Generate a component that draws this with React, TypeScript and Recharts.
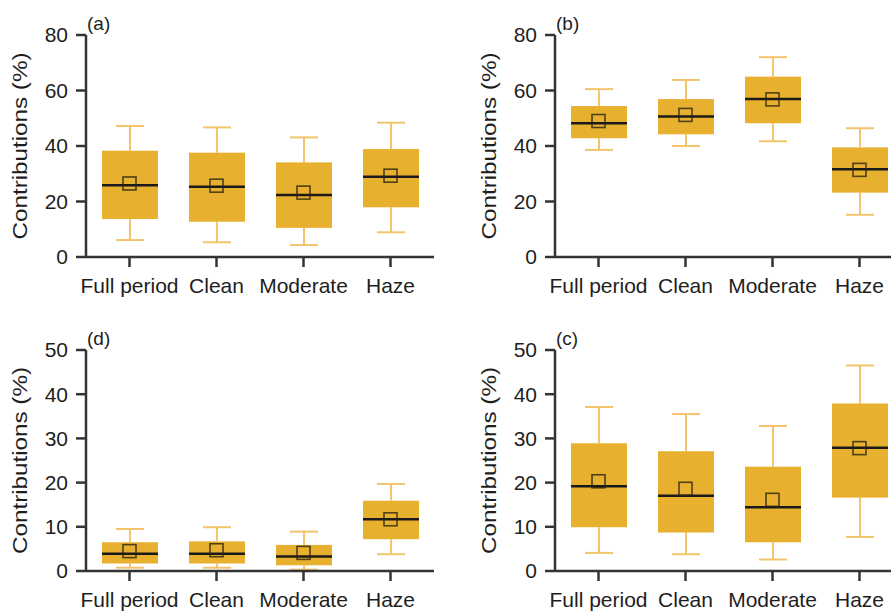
import { Bar, ComposedChart, Scatter, XAxis, YAxis } from 'recharts'

const categories = ['Full period', 'Clean', 'Moderate', 'Haze']

// panel (a)
const aLow = [6.1, 5.3, 4.3, 8.9]
const aQ1 = [13.7, 12.7, 10.5, 17.9]
const aMedian = [25.9, 25.3, 22.3, 28.9]
const aQ3 = [38.3, 37.6, 34.1, 38.9]
const aHigh = [47.2, 46.7, 43.1, 48.4]
const aMean = [26.5, 25.7, 23.2, 29.3]

// panel (b)
const bLow = [38.6, 40.0, 41.7, 15.2]
const bQ1 = [42.8, 44.2, 48.2, 23.2]
const bMedian = [48.2, 50.6, 56.9, 31.6]
const bQ3 = [54.4, 56.9, 65.0, 39.5]
const bHigh = [60.5, 63.8, 72.0, 46.4]
const bMean = [49.0, 51.2, 56.8, 31.4]

// panel (c)
const cLow = [4.1, 3.8, 2.6, 7.7]
const cQ1 = [9.9, 8.7, 6.5, 16.6]
const cMedian = [19.2, 17.0, 14.4, 27.9]
const cQ3 = [28.9, 27.1, 23.6, 37.9]
const cHigh = [37.1, 35.5, 32.8, 46.5]
const cMean = [20.3, 18.6, 16.1, 27.8]

// panel (d)
const dLow = [0.75, 0.75, 0.3, 3.8]
const dQ1 = [1.7, 1.7, 1.3, 7.2]
const dMedian = [3.9, 3.9, 3.3, 11.7]
const dQ3 = [6.5, 6.7, 5.9, 15.9]
const dHigh = [9.5, 9.9, 8.9, 19.7]
const dMean = [4.5, 4.7, 4.1, 11.7]

const ticks80 = [0, 20, 40, 60, 80]
const ticks50 = [0, 10, 20, 30, 40, 50]

const BOX = '#E8B02F'
const WHISKER = '#F2C56C'
const AXIS = '#333'
const FONT = '"Liberation Sans", Arial, sans-serif'

type Row = {
  name: string
  base: number
  lowW: number
  lowBox: number
  highBox: number
  highW: number
  mean: number
}

function buildRows(low: number[], q1: number[], med: number[], q3: number[], high: number[], mean: number[]): Row[] {
  return categories.map((name, i) => ({
    name,
    base: low[i],
    lowW: q1[i] - low[i],
    lowBox: med[i] - q1[i],
    highBox: q3[i] - med[i],
    highW: high[i] - q3[i],
    mean: mean[i],
  }))
}

function LowerWhisker(props: any) {
  const { x, y, width, height } = props
  const cx = x + width / 2
  const bottom = y + height
  return (
    <g stroke={WHISKER} strokeWidth={2}>
      <line x1={cx} x2={cx} y1={y} y2={bottom} />
      <line x1={cx - width / 4} x2={cx + width / 4} y1={bottom} y2={bottom} />
    </g>
  )
}

function UpperWhisker(props: any) {
  const { x, y, width, height } = props
  const cx = x + width / 2
  return (
    <g stroke={WHISKER} strokeWidth={2}>
      <line x1={cx} x2={cx} y1={y} y2={y + height} />
      <line x1={cx - width / 4} x2={cx + width / 4} y1={y} y2={y} />
    </g>
  )
}

function LowerBox(props: any) {
  const { x, y, width, height } = props
  return <rect x={x} y={y} width={width} height={height} fill={BOX} />
}

// upper half of the box, with the median line on its bottom edge
function UpperBox(props: any) {
  const { x, y, width, height } = props
  return (
    <g>
      <rect x={x} y={y} width={width} height={height} fill={BOX} />
      <line x1={x} x2={x + width} y1={y + height} y2={y + height} stroke="#1a1a1a" strokeWidth={2.5} />
    </g>
  )
}

function MeanSquare(props: any) {
  const { cx, cy } = props
  return (
    <rect
      x={cx - 6.5}
      y={cy - 6.5}
      width={13}
      height={13}
      fill="none"
      stroke="#2a2410"
      strokeOpacity={0.8}
      strokeWidth={1.6}
    />
  )
}

function AxisLabels({ viewBox, tag }: any) {
  const lx = viewBox.x + 27
  const ly = viewBox.y + viewBox.height / 2
  return (
    <g fontFamily={FONT} fill="#1e1e1e">
      <text
        x={lx}
        y={ly}
        transform={`rotate(-90 ${lx} ${ly})`}
        textAnchor="middle"
        fontSize={21}
        textLength={187}
        lengthAdjust="spacingAndGlyphs"
      >
        Contributions (%)
      </text>
      <text x={viewBox.x + viewBox.width + 1} y={viewBox.y - 5} fontSize={19}>
        {tag}
      </text>
    </g>
  )
}

interface PanelProps {
  rows: Row[]
  max: number
  ticks: number[]
  tag: string
  left: number
  top: number
  height: number
}

function Panel({ rows, max, ticks, tag, left, top, height }: PanelProps) {
  const tickStyle = { fill: '#1e1e1e', fontSize: 21, fontFamily: FONT }
  return (
    <div style={{ position: 'absolute', left, top }}>
      <ComposedChart width={440} height={height} data={rows} margin={{ top: 35, right: 6, bottom: 0, left: 0 }}>
        <XAxis
          dataKey="name"
          interval={0}
          height={50}
          tickSize={10}
          tickMargin={11}
          axisLine={{ stroke: AXIS, strokeWidth: 2.5 }}
          tickLine={{ stroke: AXIS, strokeWidth: 2.5 }}
          tick={tickStyle}
        />
        <YAxis
          type="number"
          domain={[0, max]}
          ticks={ticks}
          width={86}
          tickSize={10}
          tickMargin={8}
          axisLine={{ stroke: AXIS, strokeWidth: 2.5 }}
          tickLine={{ stroke: AXIS, strokeWidth: 2.5 }}
          tick={tickStyle}
          label={<AxisLabels tag={tag} />}
        />
        <Bar dataKey="base" stackId="box" barSize={56} shape={() => null} isAnimationActive={false} />
        <Bar dataKey="lowW" stackId="box" barSize={56} shape={LowerWhisker} isAnimationActive={false} />
        <Bar dataKey="lowBox" stackId="box" barSize={56} shape={LowerBox} isAnimationActive={false} />
        <Bar dataKey="highBox" stackId="box" barSize={56} shape={UpperBox} isAnimationActive={false} />
        <Bar dataKey="highW" stackId="box" barSize={56} shape={UpperWhisker} isAnimationActive={false} />
        <Scatter dataKey="mean" shape={MeanSquare} isAnimationActive={false} />
      </ComposedChart>
    </div>
  )
}

export default function App() {
  const rowsA = buildRows(aLow, aQ1, aMedian, aQ3, aHigh, aMean)
  const rowsB = buildRows(bLow, bQ1, bMedian, bQ3, bHigh, bMean)
  const rowsC = buildRows(cLow, cQ1, cMedian, cQ3, cHigh, cMean)
  const rowsD = buildRows(dLow, dQ1, dMedian, dQ3, dHigh, dMean)

  return (
    <div
      style={{
        position: 'absolute',
        left: 0,
        top: 0,
        width: 891,
        height: 614,
        overflow: 'hidden',
        background: '#fff',
      }}
    >
      <Panel rows={rowsA} max={80} ticks={ticks80} tag="(a)" left={0} top={0} height={307} />
      <Panel rows={rowsB} max={80} ticks={ticks80} tag="(b)" left={469} top={0} height={307} />
      <Panel rows={rowsD} max={50} ticks={ticks50} tag="(d)" left={0} top={315} height={306} />
      <Panel rows={rowsC} max={50} ticks={ticks50} tag="(c)" left={469} top={315} height={306} />
    </div>
  )
}
